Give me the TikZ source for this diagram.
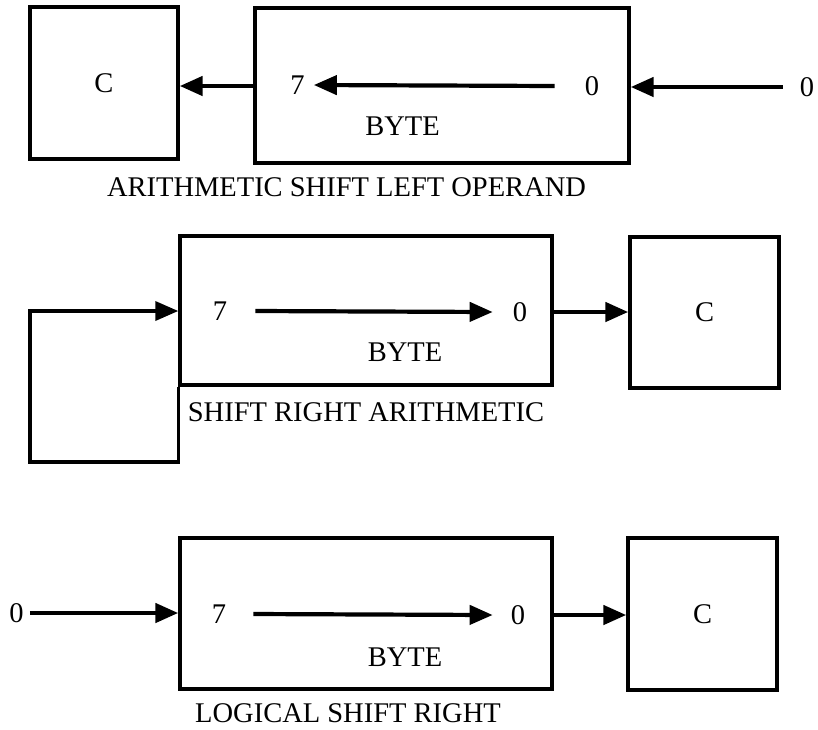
\documentclass[tikz,border=0pt]{standalone}
\usepackage{fontspec}
\setmainfont{Liberation Serif}
\usetikzlibrary{arrows.meta}
\begin{document}
\begin{tikzpicture}[x=1pt,y=-1pt,
  regbox/.style={draw, line width=3.4pt, inner sep=0pt, minimum width=#1},
  lbl/.style={inner sep=0pt, font=\fontsize{28.5}{30}\selectfont},
  arr/.style={line width=4.6pt, -{Triangle[length=23pt,width=19pt]}},
  inarr/.style={line width=4.2pt, -{Triangle[length=23pt,width=19pt]}}]
\useasboundingbox (0,0) rectangle (818,729);

% --- arithmetic shift left ---
\node[regbox=148, minimum height=152] (c1) at (104,83) {};
\node[lbl] (ctext1) at (c1) {C};
\node[regbox=374, minimum height=155] (b1) at (442,85.5) {};
\node[lbl] (seven1) at (297.5,85) {7};
\node[lbl] (zero1) at (592,86) {0};
\node[lbl] (byte1) at (402.5,126) {BYTE};
\node[lbl] (in1) at (807,87) {0};
\node[lbl] (cap1) at (346.5,187.5) {ARITHMETIC SHIFT LEFT OPERAND};
\draw[arr] (b1.west |- zero1) -- (c1.east |- zero1);
\draw[inarr] ([xshift=-30pt]zero1.west) -- ([xshift=9pt]seven1.east);
\draw[arr] ([xshift=-17pt]in1.west) -- (b1.east |- in1);

% --- shift right arithmetic ---
\node[regbox=372, minimum height=149] (b2) at (366,310.5) {};
\node[regbox=149, minimum height=151] (c2) at (704.5,312.5) {};
\node[lbl] (ctext2) at (c2) {C};
\node[lbl] (seven2) at (220,311) {7};
\node[lbl] (zero2) at (520,312) {0};
\node[lbl] (byte2) at (405,352) {BYTE};
\node[lbl] (cap2) at (366,412.5) {SHIFT RIGHT ARITHMETIC};
\coordinate (loopbl) at (30,462);
\draw[arr, line width=3.6pt] (b2.south west) -- (b2.south west |- loopbl) -- (loopbl)
  -- (loopbl |- seven2) -- (b2.west |- seven2);
\draw[inarr] ([xshift=28pt]seven2.east) -- ([xshift=-20pt]zero2.west);
\draw[arr] (b2.east |- zero2) -- (c2.west |- zero2);

% --- logical shift right ---
\node[regbox=372, minimum height=151] (b3) at (366,613.5) {};
\node[regbox=149, minimum height=152] (c3) at (702.5,614) {};
\node[lbl] (ctext3) at (c3) {C};
\node[lbl] (in3) at (16.5,613) {0};
\node[lbl] (seven3) at (219,614) {7};
\node[lbl] (zero3) at (518,615) {0};
\node[lbl] (byte3) at (405,657) {BYTE};
\node[lbl] (cap3) at (348,713) {LOGICAL SHIFT RIGHT};
\draw[arr] ([xshift=6pt]in3.east) -- (b3.west |- in3);
\draw[inarr] ([xshift=27pt]seven3.east) -- ([xshift=-18pt]zero3.west);
\draw[arr] (b3.east |- zero3) -- (c3.west |- zero3);
\end{tikzpicture}
\end{document}
